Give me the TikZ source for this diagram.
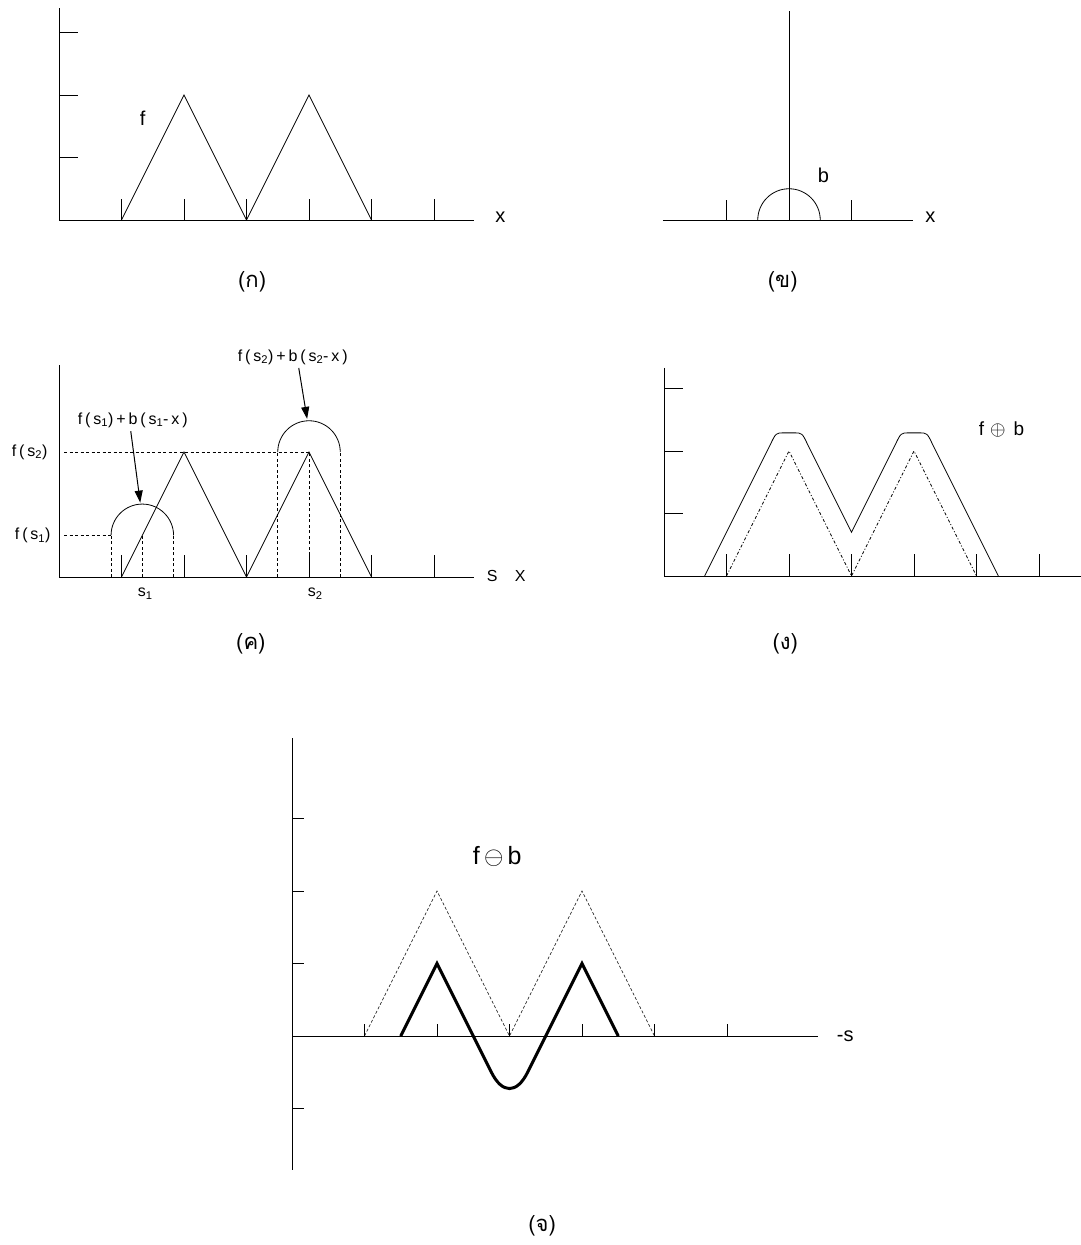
\documentclass[tikz,border=0pt]{standalone}
\usepackage{fontspec}
\setmainfont{Liberation Sans}
\newfontfamily\thaifont[Script=Thai]{Loma}
\usetikzlibrary{arrows.meta}

\tikzset{
  axis/.style={line width=1pt},
  fcurve/.style={line width=0.8pt},
  guide/.style={line width=0.8pt, dash pattern=on 3pt off 2.5pt},
  dashdot/.style={line width=0.8pt, dash pattern=on 3pt off 2pt on 1pt off 2pt},
  lbl/.style={font=\fontsize{20}{22}\selectfont},
  small/.style={font=\fontsize{16}{18}\selectfont\addfontfeatures{LetterSpace=18}},
  subcap/.style={font=\thaifont\fontsize{22}{24}\selectfont, inner sep=1pt},
  pointer/.style={line width=1pt, -{Triangle[length=12pt,width=8pt]}}
}

\begin{document}
\begin{tikzpicture}[x=1pt,y=1pt]
  \useasboundingbox (0,0) rectangle (1081,-1245);

  % (a) the function f
  \begin{scope}[xshift=59pt,yshift=-220pt,x=62.5pt,y=62.5pt]
    \draw[axis] (0,3.39) -- (0,0) -- (6.64,0);
    \foreach \k in {1,2,3} \draw[axis] (0,\k) -- (0.3,\k);
    \foreach \k in {1,...,6} \draw[axis] (\k,0) -- (\k,0.33);
    \draw[fcurve] (1,0) -- (2,2) -- (3,0) -- (4,2) -- (5,0);
    \node[lbl] (fa) at (1.34,1.63) {f};
    \node[lbl] (xa) at (7.06,0.05) {x};
    \node[subcap] (capa) at (3.09,-0.99) {(ก)};
  \end{scope}

  % (b) structuring element b
  \begin{scope}[xshift=789pt,yshift=-220pt,x=62.5pt,y=62.5pt]
    \draw[axis] (-2.02,0) -- (1.98,0);
    \draw[axis] (0,0) -- (0,3.34);
    \foreach \k in {-1,1} \draw[axis] (\k,0) -- (\k,0.32);
    \draw[fcurve] (-0.5,0) arc[start angle=180, end angle=0, radius=0.5];
    \node[lbl] (b) at (0.55,0.72) {b};
    \node[lbl] (xb) at (2.26,0.05) {x};
    \node[subcap] (capb) at (-0.1,-0.99) {(ข)};
  \end{scope}

  % (c) b placed on f at s1 and s2
  \begin{scope}[xshift=59pt,yshift=-577pt,x=62.5pt,y=62.5pt]
    \draw[axis] (0,3.39) -- (0,0) -- (6.64,0);
    \foreach \k in {1,...,6} \draw[axis] (\k,0) -- (\k,0.35);
    \draw[fcurve] (1,0) -- (2,2) -- (3,0) -- (4,2) -- (5,0);
    \draw[fcurve] (0.833,0.667) arc[start angle=180, end angle=0, radius=0.5];
    \draw[fcurve] (3.5,2) arc[start angle=180, end angle=0, radius=0.5];
    \draw[guide] (0.08,2) -- (4,2);
    \draw[guide] (0.08,0.667) -- (0.833,0.667);
    \foreach \s in {0.833,1.333,1.833} \draw[guide] (\s,0) -- (\s,0.667);
    \foreach \s in {3.5,4,4.5} \draw[guide] (\s,0) -- (\s,2);
    \node[small] (fs2) at (-0.47,2) {f(s\textsubscript{2})};
    \node[small] (fs1) at (-0.42,0.667) {f(s\textsubscript{1})};
    \node[small] (top1) at (1.18,2.51) {f(s\textsubscript{1})+b(s\textsubscript{1}-x)};
    \node[small] (top2) at (3.74,3.52) {f(s\textsubscript{2})+b(s\textsubscript{2}-x)};
    \coordinate (tip1) at (1.3,1.19);
    \coordinate (tip2) at (3.97,2.53);
    \draw[pointer] ([xshift=-2pt]top1.south) -- (tip1);
    \draw[pointer] ([xshift=6pt]top2.south) -- (tip2);
    \node[small] (s1) at (1.38,-0.27) {s\textsubscript{1}};
    \node[small] (s2) at (4.1,-0.27) {s\textsubscript{2}};
    \node[small] (sc) at (6.93,0.02) {S};
    \node[small] (xc) at (7.38,0.02) {X};
    \node[subcap] (capc) at (3.07,-1.07) {(ค)};
  \end{scope}

  % (d) dilation
  \begin{scope}[xshift=664pt,yshift=-576pt,x=62.5pt,y=62.5pt]
    \draw[axis] (0,3.33) -- (0,0) -- (6.67,0);
    \foreach \k in {1,2,3} \draw[axis] (0,\k) -- (0.3,\k);
    \foreach \k in {1,...,6} \draw[axis] (\k,0) -- (\k,0.35);
    \draw[dashdot] (1,0) -- (2,2) -- (3,0) -- (4,2) -- (5,0);
    \draw[fcurve] (0.65,0) -- (1.7,2.1) .. controls (1.79,2.29) .. (1.92,2.29)
      -- (2.08,2.29) .. controls (2.21,2.29) .. (2.3,2.1) -- (3,0.7)
      -- (3.7,2.1) .. controls (3.79,2.29) .. (3.92,2.29)
      -- (4.08,2.29) .. controls (4.21,2.29) .. (4.3,2.1) -- (5.35,0);
    \node[font=\fontsize{19}{21}\selectfont] (dil) at (5.4,2.34) {f\hspace{6pt}\scalebox{1.15}{$\oplus$}\hspace{8pt}b};
    \node[subcap] (capd) at (1.94,-1.09) {(ง)};
  \end{scope}

  % (e) erosion
  \begin{scope}[xshift=292pt,yshift=-1036pt,x=72.5pt,y=72.5pt]
    \draw[fcurve] (0,4.11) -- (0,-1.85);
    \draw[fcurve] (0,0) -- (7.26,0);
    \foreach \k in {-1,1,2,3} \draw[fcurve] (0,\k) -- (0.17,\k);
    \foreach \k in {1,...,6} \draw[fcurve] (\k,0) -- (\k,0.17);
    \draw[line width=0.6pt, dash pattern=on 3pt off 2pt] (1,0) -- (2,2) -- (3,0) -- (4,2) -- (5,0);
    \draw[line width=3pt] (1.5,0) -- (2,1) -- (2.75,-0.5)
      .. controls (2.9,-0.8) and (3.1,-0.8) .. (3.25,-0.5) -- (4,1) -- (4.5,0);
    \node[font=\fontsize{25}{27}\selectfont] (ero) at (2.83,2.47) {f$\,\ominus\,$b};
    \node[lbl] (se) at (7.63,0) {-s};
    \node[subcap] (cape) at (3.45,-2.62) {(จ)};
  \end{scope}
\end{tikzpicture}
\end{document}
